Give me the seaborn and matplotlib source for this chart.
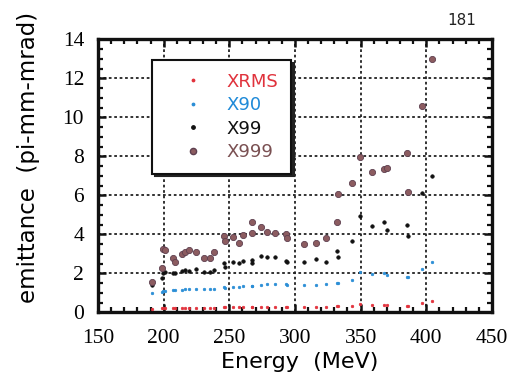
import numpy as np
import pandas as pd
import seaborn as sns
import matplotlib.pyplot as plt
from matplotlib.ticker import MultipleLocator
from matplotlib.lines import Line2D

# ---- data ----
energy = [191, 198.5, 199.5, 201, 207, 208.5, 214, 216.5, 219, 224.5,
          231, 235, 238.5, 246, 246.5, 253, 257, 260.5, 267, 267.5,
          274, 279, 285, 293.5, 294, 307, 316, 323.5, 332, 332.5,
          343.5, 349.5, 358.5, 367.5, 370, 385.5, 386, 397, 404]

xrms = [0.18, 0.2, 0.2, 0.21, 0.21, 0.22, 0.22, 0.23, 0.23, 0.23,
        0.23, 0.23, 0.24, 0.25, 0.25, 0.25, 0.26, 0.26, 0.27, 0.27,
        0.28, 0.28, 0.28, 0.28, 0.28, 0.28, 0.29, 0.29, 0.3, 0.3,
        0.34, 0.43, 0.39, 0.4, 0.4, 0.34, 0.34, 0.46, 0.6]

x90 = [0.97, 1.05, 1.08, 1.1, 1.13, 1.13, 1.16, 1.18, 1.18, 1.18,
       1.18, 1.2, 1.2, 1.28, 1.26, 1.3, 1.32, 1.33, 1.35, 1.34,
       1.4, 1.43, 1.43, 1.43, 1.42, 1.4, 1.4, 1.43, 1.5, 1.49,
       1.66, 2.08, 1.95, 2.0, 1.91, 1.8, 1.8, 2.2, 2.6]

x99 = [1.4, 1.74, 2.0, 2.08, 2.0, 2.03, 2.1, 2.17, 2.13, 2.22,
       2.08, 2.08, 2.17, 2.51, 2.34, 2.6, 2.51, 2.65, 2.68, 2.51,
       2.9, 2.85, 2.85, 2.65, 2.56, 2.6, 2.72, 2.6, 3.13, 2.85,
       3.66, 4.95, 4.43, 4.62, 4.24, 4.5, 3.93, 6.1, 7.0]

x999 = [1.57, 2.26, 3.23, 3.2, 2.77, 2.6, 3.0, 3.08, 3.17, 3.11,
        2.8, 2.8, 3.11, 3.93, 3.67, 3.85, 3.57, 3.96, 4.65, 4.08,
        4.35, 4.13, 4.08, 4.0, 3.83, 3.49, 3.57, 3.79, 4.65, 6.07,
        6.65, 7.95, 7.18, 7.35, 7.4, 8.15, 6.15, 10.6, 13.0]

series_names = ['XRMS', 'X90', 'X99', 'X999']

df = pd.DataFrame({'energy': energy, 'XRMS': xrms, 'X90': x90,
                   'X99': x99, 'X999': x999})
long_df = df.melt(id_vars='energy', var_name='series', value_name='emittance')

# ---- styling ----
colors = {'XRMS': '#e2323c', 'X90': '#2b8ed6', 'X99': '#111111', 'X999': '#8c5c60'}
text_colors = {'XRMS': '#e0323c', 'X90': '#1f8ad8', 'X99': '#111111', 'X999': '#7a5052'}
edges = {'XRMS': '#e2323c', 'X90': '#2b8ed6', 'X99': '#111111', 'X999': '#5e4050'}
sizes = {'XRMS': 3, 'X90': 3, 'X99': 6, 'X999': 20}

plt.rcParams.update({'font.family': 'DejaVu Sans'})

fig = plt.figure(figsize=(5.14, 3.81), dpi=100)
ax = fig.add_axes([0.1907, 0.1803, 0.7663, 0.7166])

for name in series_names:
    sub = long_df[long_df['series'] == name]
    sns.scatterplot(data=sub, x='energy', y='emittance', ax=ax,
                    color=colors[name], edgecolor=edges[name], linewidth=0.6,
                    s=sizes[name], zorder=3, legend=False)

ax.set_xlim(150, 450)
ax.set_ylim(0, 14)
ax.xaxis.set_major_locator(MultipleLocator(50))
ax.xaxis.set_minor_locator(MultipleLocator(10))
ax.yaxis.set_major_locator(MultipleLocator(2))
ax.yaxis.set_minor_locator(MultipleLocator(0.5))

ax.grid(True, which='major', color='#222222', linestyle=(0, (1.5, 1.5)), linewidth=1.3)
ax.set_axisbelow(True)

for sp in ax.spines.values():
    sp.set_linewidth(2.4)
    sp.set_color('#111111')

ax.tick_params(which='both', direction='in', top=True, right=True, color='#111111')
ax.tick_params(which='major', length=6, width=1.8,
               labelsize=15.5, labelfontfamily='Liberation Serif')
ax.tick_params(axis='x', which='major', pad=12)
ax.tick_params(axis='y', which='major', pad=10)
ax.tick_params(which='minor', length=3.5, width=1.6)

ax.set_xlabel('Energy  (MeV)', fontsize=16)
ax.set_ylabel('emittance  (pi-mm-mrad)', fontsize=16.5)
ax.xaxis.set_label_coords(0.513, -0.145)
ax.yaxis.set_label_coords(-0.147, 0.569)

# legend
handles = [Line2D([], [], linestyle='none', marker='o', color=colors[n],
                  markeredgecolor=edges[n], markersize=np.sqrt(sizes[n]))
           for n in series_names]
leg = ax.legend(handles, series_names, loc='upper left',
                bbox_to_anchor=(0.137, 0.924), fontsize=13, frameon=True,
                fancybox=False, edgecolor='#111111', framealpha=1,
                borderpad=0.7, handlelength=3.1, handletextpad=0.35,
                labelspacing=0.3, borderaxespad=0,
                shadow={'color': '#222222', 'alpha': 1})
leg.get_frame().set_linewidth(1.5)
for txt, n in zip(leg.get_texts(), series_names):
    txt.set_color(text_colors[n])

fig.text(0.899, 0.945, '181', fontsize=11, ha='center', va='center', color='#222222')

fig.savefig('out.png', dpi=100)
